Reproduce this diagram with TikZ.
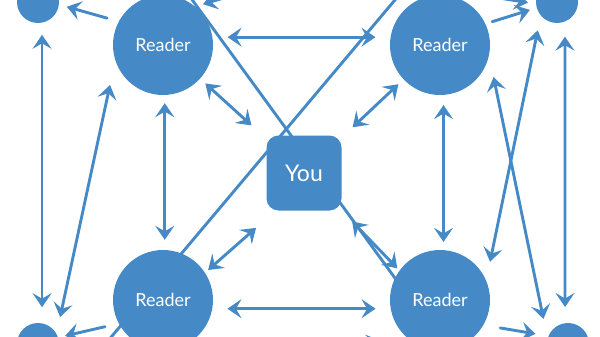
\documentclass[tikz,border=0pt]{standalone}
\usepackage{fontspec}
\setmainfont{Lato}
\usetikzlibrary{arrows.meta}
\definecolor{blu}{RGB}{69,138,198}
\begin{document}
\begin{tikzpicture}[x=1pt,y=-1pt,
  >={Stealth[length=14pt,width=19pt,inset=5.5pt]},
  reader/.style={circle,fill=blu,minimum size=100pt,inner sep=0pt,text=white,font=\fontsize{18}{18}\selectfont},
  dot/.style={circle,fill=blu,minimum size=42pt,inner sep=0pt},
  youbox/.style={rectangle,rounded corners=12pt,fill=blu,minimum size=75pt,inner sep=0pt,text=white,font=\fontsize{23}{23}\selectfont},
  link/.style={draw=blu,line width=2.9pt,line cap=round}]
\useasboundingbox (0,0) rectangle (600,337);
\clip (0,0) rectangle (600,337);
% long lines behind the nodes
\coordinate (a1) at (150,-58);
\coordinate (a2) at (462,370);
\coordinate (b1) at (437,-50);
\coordinate (b2) at (75,380);
\draw[link] (a1) -- (a2);
\draw[link] (b1) -- (b2);
% nodes
\node[reader] (rTL) at (163,45) {Reader};
\node[reader] (rTR) at (440,45) {Reader};
\node[reader] (rBL) at (163,300) {Reader};
\node[reader] (rBR) at (440,300) {Reader};
\node[youbox] (you) at (304,173) {You};
\node[dot] (sTL) at (38,2) {};
\node[dot] (sTR) at (557,2) {};
\node[dot] (sBL) at (38,344) {};
\node[dot] (sBR) at (568,344) {};
% reader to reader
\draw[link,<->,shorten <=15pt,shorten >=15pt] (rTL.9) -- (rTR.171);
\draw[link,<->,shorten <=15pt,shorten >=15pt] (rBL.-10) -- (rBR.190);
\draw[link,<->,shorten <=8pt,shorten >=10pt] (rTL.-88) -- (rBL.88);
\draw[link,<->,shorten <=10pt,shorten >=8pt] (rTR.-86) -- (rBR.86);
% readers to you
\draw[link,<->,shorten <=7pt,shorten >=20pt] (rTL) -- (you);
\draw[link,<->,shorten <=7pt,shorten >=15pt] (rTR) -- (you);
\draw[link,<->,shorten <=4pt,shorten >=26pt] (rBL.33) -- (you.233);
\draw[link,<->,shorten <=15pt,shorten >=3pt] (you.-45) -- (rBR.144);
% outer left
\draw[link,<->,shorten <=12pt,shorten >=16pt] (sTL.-79) -- (sBL.79);
\draw[link,<->,shorten <=17pt,shorten >=25pt] (sBL.29) -- (rTL.198);
\draw[link,->,shorten <=12pt,shorten >=8pt] (rTL.152) -- (sTL.-7);
\draw[link,->,shorten <=14pt,shorten >=7pt] (rBL.208) -- (sBL.18);
% outer right
\draw[link,->,shorten <=7pt,shorten >=7pt] (rTR.25) -- (sTR.196);
\draw[link,->,shorten <=17pt,shorten >=13pt] (rBR.-30) -- (sBR.158);
\draw[link,<->,shorten <=15pt,shorten >=16pt] (sTR.-68) -- (sBR.98);
\draw[link,<->,shorten <=22pt,shorten >=20pt] (rTR.-12) -- (sBR.165);
\draw[link,<->,shorten <=15pt,shorten >=19pt] (sTR.220) -- (rBR.23);
% arrows entering from outside the frame
\coordinate (e1) at (250,-10);
\coordinate (e2) at (480,-5);
\coordinate (e3) at (320,355);
\draw[link,->,shorten >=8pt] (e1) -- (rTL.50);
\draw[link,->,shorten >=8pt] (e2) -- (sTR.185);
\draw[link,->,shorten >=24pt] (e3) -- (rBR.225);
\end{tikzpicture}
\end{document}
